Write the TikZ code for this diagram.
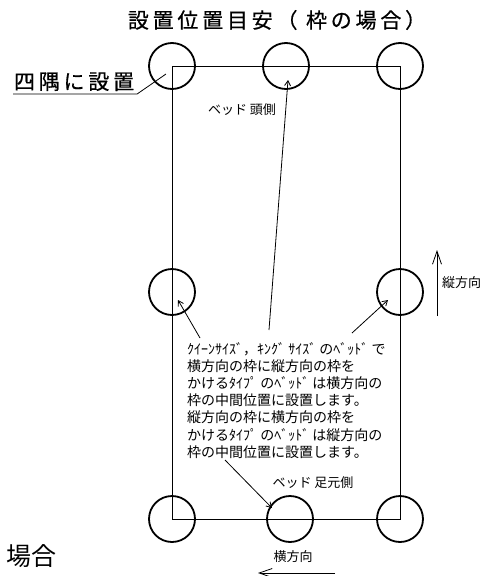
\documentclass[tikz,border=0pt]{standalone}
\usepackage{fontspec}
\setmainfont{Noto Sans CJK JP}
\newfontfamily\titlefont[LetterSpace=18, FakeBold=0.6]{Noto Sans CJK JP}
\usetikzlibrary{arrows.meta, calc}
\tikzset{
  marker/.style={circle, draw, line width=1.8pt, minimum size=46pt, inner sep=0pt},
  frame/.style={line width=0.8pt},
  leader/.style={line width=0.8pt, -{Straight Barb[length=5pt, width=6pt]}},
  dirarrow/.style={line width=0.8pt, -{Straight Barb[length=13pt, width=9pt]}},
  heading/.style={font=\titlefont\fontsize{21}{24}\selectfont},
  smalllbl/.style={font=\fontsize{13}{15}\selectfont, inner sep=0pt},
}

\begin{document}
\begin{tikzpicture}[x=1pt, y=-1pt]
\useasboundingbox (0,0) rectangle (486,576);

\node[heading] (title) at (277,20) {設置位置目安（ 枠の場合）};
\node[font=\fontsize{25}{28}\selectfont, anchor=east, inner sep=0pt] (cut) at (57,556) {場合};

% corner and middle markers
\node[marker] (c-tl) at (172,66) {};
\node[marker] (c-tm) at (286,66) {};
\node[marker] (c-tr) at (400,66) {};
\node[marker] (c-ml) at (172,292) {};
\node[marker] (c-mr) at (400,292) {};
\node[marker] (c-bl) at (172,519) {};
\node[marker] (c-bm) at (290,519) {};
\node[marker] (c-br) at (400,519) {};
\draw[frame] (c-tl.center) rectangle (c-br.center);

\node[heading, anchor=south west, inner sep=0pt, outer sep=0pt] (corner) at (14,91) {四隅に設置};
\draw[frame] ($(corner.south west)+(-1,3)$) -- ($(corner.south east)+(3,3)$) -- ([shift={(-6,8)}]c-tl.center);

\node[smalllbl] (head) at (242,110) {ベッド 頭側};
\node[smalllbl] (foot) at (313,483) {ベッド 足元側};

\node[anchor=north west, inner sep=0pt, align=left, font=\fontsize{14}{17.2}\selectfont] (note) at (187,342)
  {ｸｲｰﾝｻｲｽﾞ，ｷﾝｸﾞ ｻｲｽﾞ のﾍﾞｯﾄﾞ で\\
   横方向の枠に縦方向の枠を\\
   かけるﾀｲﾌﾟ のﾍﾞｯﾄﾞ は横方向の\\
   枠の中間位置に設置します。\\
   縦方向の枠に横方向の枠を\\
   かけるﾀｲﾌﾟ のﾍﾞｯﾄﾞ は縦方向の\\
   枠の中間位置に設置します。};

\coordinate (n1) at (200,338);
\coordinate (n2) at (269,330);
\coordinate (n3) at (352,333);
\coordinate (n4) at (225,460);
\draw[leader] (n1) -- ([shift={(6,8)}]c-ml.center);
\draw[leader] (n2) -- ([shift={(2,14)}]c-tm.center);
\draw[leader] (n3) -- ([shift={(-12,8)}]c-mr.center);
\draw[leader] (n4) -- ([shift={(-18,-11)}]c-bm.center);

% directions
\coordinate (v0) at (437,316);
\coordinate (v1) at (437,250);
\draw[dirarrow] (v0) -- (v1);
\node[smalllbl, anchor=west] (vlbl) at (442,283) {縦方向};
\node[smalllbl] (hlbl) at (293,557) {横方向};
\coordinate (h0) at (335,573);
\coordinate (h1) at (258,573);
\draw[dirarrow] (h0) -- (h1);
\end{tikzpicture}
\end{document}
